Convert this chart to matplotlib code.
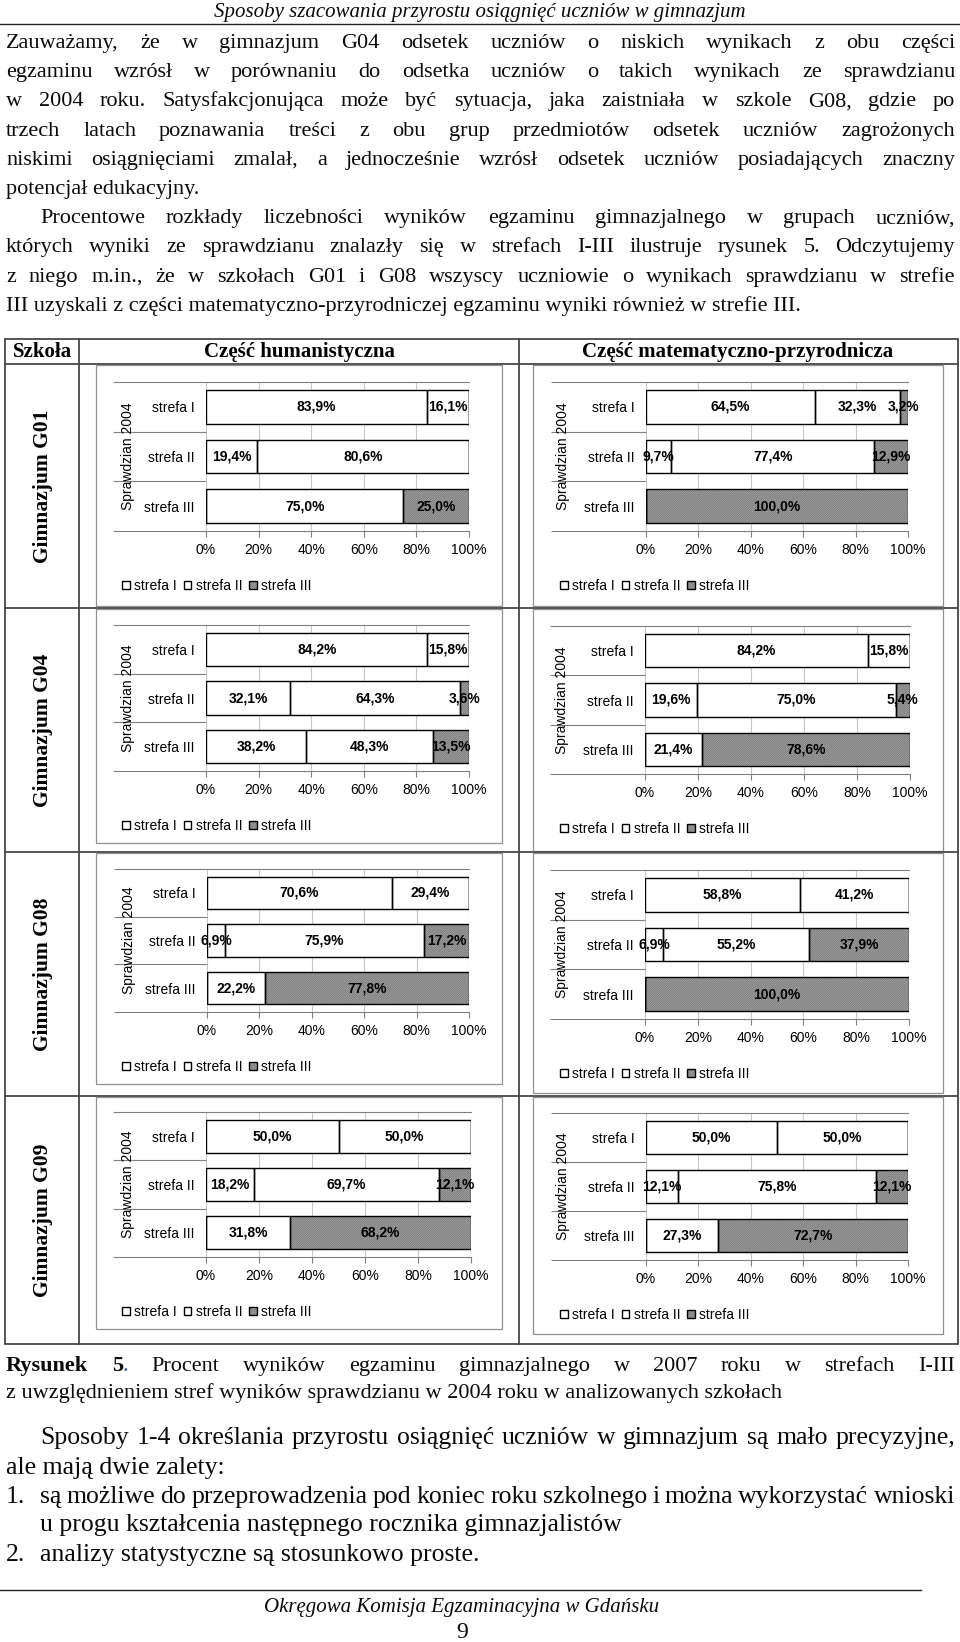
import matplotlib
matplotlib.use('Agg')
import matplotlib.pyplot as plt
from matplotlib.patches import Rectangle
import numpy as np

plt.rcParams['font.family'] = ['Liberation Sans', 'DejaVu Sans']
plt.rcParams['hatch.color'] = '#707070'
plt.rcParams['hatch.linewidth'] = 0.5

SERIF = ['Liberation Serif', 'DejaVu Serif']

# Dane wykresu
szkoly = ['Gimnazjum G01', 'Gimnazjum G04', 'Gimnazjum G08', 'Gimnazjum G09']
strefy = ['strefa I', 'strefa II', 'strefa III']
czesci = ['Część humanistyczna', 'Część matematyczno-przyrodnicza']
os_x = [0, 20, 40, 60, 80, 100]

# wiersz = strefa ze sprawdzianu 2004, kolumny = strefa I, II, III egzaminu 2007 (w %)
hum_g01 = [[83.9, 16.1, 0.0], [19.4, 80.6, 0.0], [0.0, 75.0, 25.0]]
mat_g01 = [[64.5, 32.3, 3.2], [9.7, 77.4, 12.9], [0.0, 0.0, 100.0]]
hum_g04 = [[84.2, 15.8, 0.0], [32.1, 64.3, 3.6], [38.2, 48.3, 13.5]]
mat_g04 = [[84.2, 15.8, 0.0], [19.6, 75.0, 5.4], [0.0, 21.4, 78.6]]
hum_g08 = [[70.6, 29.4, 0.0], [6.9, 75.9, 17.2], [0.0, 22.2, 77.8]]
mat_g08 = [[58.8, 41.2, 0.0], [6.9, 55.2, 37.9], [0.0, 0.0, 100.0]]
hum_g09 = [[50.0, 50.0, 0.0], [18.2, 69.7, 12.1], [0.0, 31.8, 68.2]]
mat_g09 = [[50.0, 50.0, 0.0], [12.1, 75.8, 12.1], [0.0, 27.3, 72.7]]

dane_hum = [hum_g01, hum_g04, hum_g08, hum_g09]
dane_mat = [mat_g01, mat_g04, mat_g08, mat_g09]

W, H = 960, 1642
fig = plt.figure(figsize=(W / 100, H / 100), dpi=100)
page = fig.add_axes([0, 0, 1, 1])
page.set_xlim(0, W)
page.set_ylim(H, 0)
page.axis('off')
renderer = fig.canvas.get_renderer()


def osie_px(x0, y0, x1, y1):
    return fig.add_axes([x0 / W, 1 - y1 / H, (x1 - x0) / W, (y1 - y0) / H])


def linia(tekst, x0, y, x1=None, size=16):
    # x1 podane -> wiersz wyjustowany do prawego marginesu
    if x1 is None:
        page.text(x0, y, tekst, fontsize=size, family=SERIF, va='baseline', ha='left', color='#0a0a0a')
        return
    linia_mix([[(s, {})] for s in tekst.split(' ')], x0, y, x1, size)


def linia_mix(slowa, x0, y, x1, size=16):
    # slowa: lista slow, kazde slowo to lista (tekst, styl)
    arts = []
    for s in slowa:
        czesc = []
        for kawalek, styl in s:
            props = {'color': '#0a0a0a', **styl}
            a = page.text(0, y, kawalek, fontsize=size, family=SERIF, va='baseline', ha='left', **props)
            czesc.append((a, a.get_window_extent(renderer).width))
        arts.append(czesc)
    szer = [sum(w for _, w in c) for c in arts]
    odstep = (x1 - x0 - sum(szer)) / (len(arts) - 1)
    x = x0
    for c in arts:
        for a, w in c:
            a.set_x(x)
            x += w
        x += odstep


# naglowek strony
page.text(480, 17, 'Sposoby szacowania przyrostu osiągnięć uczniów w gimnazjum', fontsize=15,
          family=SERIF, style='italic', ha='center', va='baseline', color='#0a0a0a')
page.plot([0, 960], [24, 24], color='#222222', lw=1.0)

L, R = 6, 955
tekst_gora = [
    ('Zauważamy, że w gimnazjum G04 odsetek uczniów o niskich wynikach z obu części', L, True),
    ('egzaminu wzrósł w porównaniu do odsetka uczniów o takich wynikach ze sprawdzianu', L, True),
    ('w 2004 roku. Satysfakcjonująca może być sytuacja, jaka zaistniała w szkole G08, gdzie po', L, True),
    ('trzech latach poznawania treści z obu grup przedmiotów odsetek uczniów zagrożonych', L, True),
    ('niskimi osiągnięciami zmalał, a jednocześnie wzrósł odsetek uczniów posiadających znaczny', L, True),
    ('potencjał edukacyjny.', L, False),
    ('Procentowe rozkłady liczebności wyników egzaminu gimnazjalnego w grupach uczniów,', 40, True),
    ('których wyniki ze sprawdzianu znalazły się w strefach I-III ilustruje rysunek 5. Odczytujemy', L, True),
    ('z niego m.in., że w szkołach G01 i G08 wszyscy uczniowie o wynikach sprawdzianu w strefie', L, True),
    ('III uzyskali z części matematyczno-przyrodniczej egzaminu wyniki również w strefie III.', L, False),
]
for i, (t, x0, jus) in enumerate(tekst_gora):
    linia(t, x0, 48 + 29.2 * i, R if jus else None)

# tabela
ramka = '#484848'
page.add_patch(Rectangle((5, 339), 953, 1005, fill=False, edgecolor=ramka, lw=1.3))
for yy in [364, 608, 852, 1096]:
    page.plot([5, 958], [yy, yy], color=ramka, lw=1.3)
for xx in [79, 519]:
    page.plot([xx, xx], [339, 1344], color=ramka, lw=1.3)

page.text(42, 352, 'Szkoła', fontsize=15, fontweight='bold', family=SERIF, ha='center', va='center')
page.text(299, 352, czesci[0], fontsize=15, fontweight='bold', family=SERIF, ha='center', va='center')
page.text(738, 352, czesci[1], fontsize=15, fontweight='bold', family=SERIF, ha='center', va='center')

wiersze = [364, 608, 852, 1096, 1344]
dol_lewe = [606, 843, 1084, 1329]
dol_prawe = [606, 851, 1093, 1334]
for i, nazwa in enumerate(szkoly):
    page.text(43, (wiersze[i] + wiersze[i + 1]) / 2, nazwa, fontsize=15.5, fontweight='bold', family=SERIF,
              rotation=90, ha='center', va='center')
    page.add_patch(Rectangle((96, wiersze[i] + 1), 406, dol_lewe[i] - wiersze[i] - 1,
                             fill=False, edgecolor='#909090', lw=0.9))
    page.add_patch(Rectangle((533, wiersze[i] + 1), 410, dol_prawe[i] - wiersze[i] - 1,
                             fill=False, edgecolor='#909090', lw=0.9))

lewe = [(206, 382, 469, 531), (206, 625, 469, 771), (207, 869, 469, 1012), (206, 1112, 471, 1257)]
prawe = [(646, 382, 908, 531), (645, 626, 910, 774), (645, 870, 909, 1019), (646, 1113, 908, 1260)]


def wykres(box, dane, x_legendy, dx_opis, dx_tick):
    x0, y0, x1, y1 = box
    szer, wys = x1 - x0, y1 - y0
    ax = osie_px(x0, y0, x1, y1)
    ax.set_facecolor('none')
    dane = np.array(dane)
    y = np.arange(3) + 0.5
    lewo = np.zeros(3)
    uchwyty = []
    for k in range(3):
        wart = dane[:, k]
        if k == 2:
            wyp = ax.barh(y, wart, 0.68, left=lewo, color='#b0b0b0', hatch='/' * 18, zorder=2)
        else:
            wyp = ax.barh(y, wart, 0.68, left=lewo, color='white', zorder=2)
        obrys = ax.barh(y, wart, 0.68, left=lewo, fill=False, edgecolor='black', linewidth=1.0, zorder=3)
        etykiety = [f'{v:.1f}%'.replace('.', ',') if v > 0 else '' for v in wart]
        ax.bar_label(obrys, labels=etykiety, label_type='center', fontsize=10, fontweight='bold', zorder=4)
        uchwyty.append((wyp[0], obrys[0]))
        lewo = lewo + wart

    ax.set_xlim(0, 100)
    ax.set_ylim(3, 0)
    ax.set_xticks(os_x)
    ax.set_xticklabels([f'{v}%' for v in os_x])
    ax.set_yticks(y)
    ax.set_yticklabels(strefy)
    ax.set_yticks(np.arange(4), minor=True)
    ax.tick_params(axis='y', which='major', length=0, pad=8, labelsize=10)
    ax.tick_params(axis='y', which='minor', length=dx_tick * 0.72, width=0.8, color='#808080')
    ax.tick_params(axis='x', length=4, width=0.8, color='#808080', pad=4.5, labelsize=10)
    ax.grid(axis='x', color='#c8c8c8', linewidth=0.8)
    ax.set_axisbelow(True)
    for s in ['left', 'right']:
        ax.spines[s].set_visible(False)
    for s in ['top', 'bottom']:
        ax.spines[s].set_color('#808080')
        ax.spines[s].set_linewidth(0.8)
    ax.text(-dx_opis / szer, 0.5, 'Sprawdzian 2004', transform=ax.transAxes, rotation=90,
            ha='center', va='center', fontsize=10)
    ax.legend(uchwyty, strefy, loc='center left', bbox_to_anchor=((x_legendy - x0) / szer, -55 / wys),
              ncol=3, frameon=False, fontsize=10, handlelength=0.55, handleheight=0.55,
              handletextpad=0.35, columnspacing=0.45, borderpad=0, borderaxespad=0)
    return ax


for i in range(4):
    wykres(lewe[i], dane_hum[i], 122, 78, 93)
    wykres(prawe[i], dane_mat[i], 560, 83, 95)

# podpis i tekst pod tabela
podpis = [[('Rysunek', {'fontweight': 'bold'})],
          [('5', {'fontweight': 'bold'}), ('.', {'color': '#3050c0'})]]
podpis += [[(s, {})] for s in 'Procent wyników egzaminu gimnazjalnego w 2007 roku w strefach I-III'.split(' ')]
linia_mix(podpis, L, 1371, R, size=16)
linia('z uwzględnieniem stref wyników sprawdzianu w 2004 roku w analizowanych szkołach', L, 1398, size=16)

D = 18.5
linia('Sposoby 1-4 określania przyrostu osiągnięć uczniów w gimnazjum są mało precyzyjne,', 40, 1444, R, size=D)
linia('ale mają dwie zalety:', L, 1474, size=D)
linia('1.', L, 1503, size=D)
linia('są możliwe do przeprowadzenia pod koniec roku szkolnego i można wykorzystać wnioski', 40, 1503, R, size=D)
linia('u progu kształcenia następnego rocznika gimnazjalistów', 40, 1531, size=D)
linia('2.', L, 1561, size=D)
linia('analizy statystyczne są stosunkowo proste.', 40, 1561, size=D)

# stopka
page.plot([0, 921], [1590, 1590], color='#222222', lw=1.0)
page.text(462, 1612, 'Okręgowa Komisja Egzaminacyjna w Gdańsku', fontsize=15, family=SERIF,
          style='italic', ha='center', va='baseline', color='#0a0a0a')
page.text(462, 1638, '9', fontsize=17, family=SERIF, ha='center', va='baseline', color='#0a0a0a')

fig.savefig('out.png', dpi=100)
